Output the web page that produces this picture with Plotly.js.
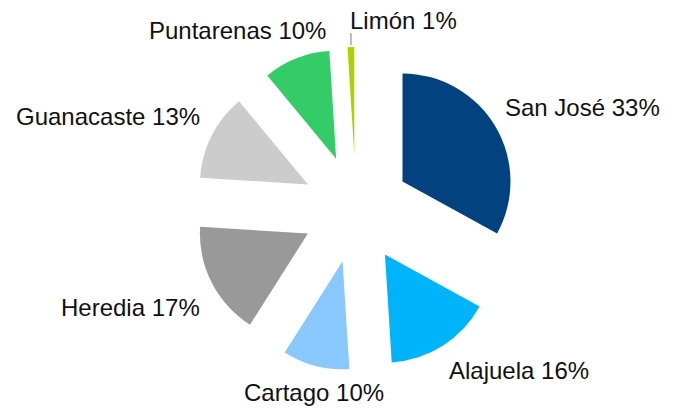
<!DOCTYPE html>
<html>
<head>
<meta charset="utf-8">
<script src="https://cdn.plot.ly/plotly-3.0.1.min.js"></script>
<style>html,body{margin:0;padding:0;background:#fff;}#chart{width:675px;height:408px;}</style>
</head>
<body>
<div id="chart"></div>
<script>
const provinces = ["San José", "Alajuela", "Cartago", "Heredia", "Guanacaste", "Puntarenas", "Limón"];
const shares = [33, 16, 10, 17, 13, 10, 1];
const colors = ["#02437f", "#00b4fb", "#88c8fd", "#999999", "#cccccc", "#33cc66", "#aed000"];

const W = 675, H = 408;
const M = {l: 37, r: 0, t: 47, b: 37};
const PULL = 0.5;
const FONT = {family: "Liberation Sans, Arial, sans-serif", size: 24, color: "#111111"};

const trace = {
  type: "pie",
  labels: provinces,
  values: shares,
  sort: false,
  direction: "clockwise",
  rotation: 0,
  pull: provinces.map(() => PULL),
  marker: {colors: colors, line: {width: 0}},
  textinfo: "none",
  hoverinfo: "label+percent",
  domain: {x: [0, 1], y: [0, 1]}
};

// Label placement derived from the pie geometry (same rule Plotly uses for sizing)
const pw = W - M.l - M.r, ph = H - M.t - M.b;
const cx = M.l + pw / 2, cy = M.t + ph / 2;
const R = Math.min(pw, ph) / 2 / (1 + PULL);
const outerDist = R * (1 + PULL);
const total = shares.reduce((a, b) => a + b, 0);
const toPx = (px) => (px - M.l) / pw;
const toPy = (py) => 1 - (py - M.t) / ph;

const annotations = [];
const shapes = [];
let cum = 0;
shares.forEach((v, i) => {
  const theta = 2 * Math.PI * (cum + v / 2) / total;
  cum += v;
  const dx = Math.sin(theta), dy = -Math.cos(theta);
  const ox = cx + outerDist * dx, oy = cy + outerDist * dy;
  const text = provinces[i] + " " + v + "%";
  let x, y, xa;
  if (v / total < 0.03) {
    // tiny slice: label lifted with a leader line
    xa = "left"; x = ox - 3; y = oy - 27;
    shapes.push({type: "line", xref: "paper", yref: "paper",
      x0: toPx(ox), x1: toPx(ox), y0: toPy(oy - 2), y1: toPy(oy - 14),
      line: {color: "#a6a6a6", width: 1.5}});
  } else if (Math.abs(dx) >= 0.5) {
    xa = dx > 0 ? "left" : "right";
    x = ox + (dx > 0 ? (dy > 0 ? 4 : 8) : -10);
    y = oy + (dy > 0 ? 25 : -19);
  } else if (dy < 0) {
    xa = dx < 0 ? "right" : "left";
    x = ox + (dx < 0 ? 32 : -4);
    y = oy - 28;
  } else {
    xa = "center"; x = ox - 2; y = oy + 27;
  }
  annotations.push({xref: "paper", yref: "paper", x: toPx(x), y: toPy(y),
    xanchor: xa, yanchor: "middle", text: text, showarrow: false, font: FONT});
});

const layout = {
  width: W,
  height: H,
  margin: {l: M.l, r: M.r, t: M.t, b: M.b, autoexpand: false},
  showlegend: false,
  paper_bgcolor: "#ffffff",
  font: {family: FONT.family},
  annotations: annotations,
  shapes: shapes
};

Plotly.newPlot("chart", [trace], layout, {staticPlot: true});
</script>
</body>
</html>
